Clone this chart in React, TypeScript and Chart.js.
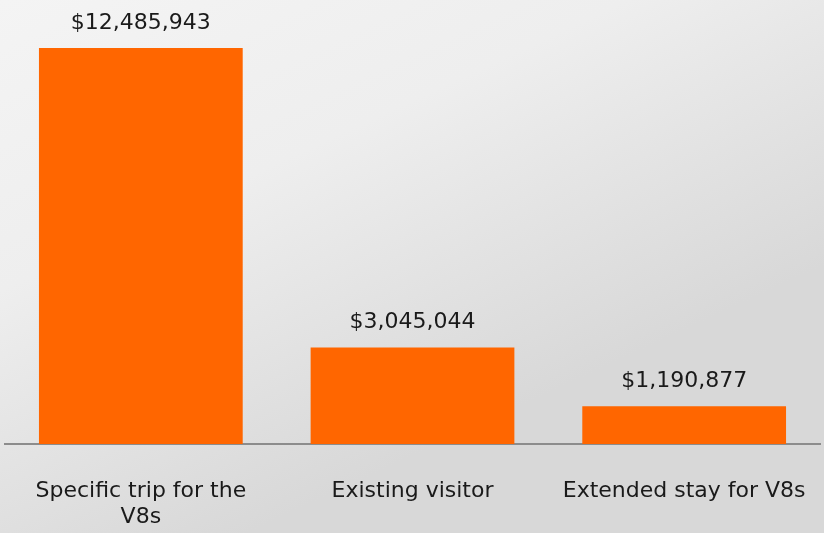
import React, { useEffect, useRef } from "react";
import { Chart, registerables } from "chart.js";

Chart.register(...registerables);

const categories: (string | string[])[] = [["Specific trip for the", "V8s"], "Existing visitor", "Extended stay for V8s"];
const values: number[] = [12485943, 3045044, 1190877];
const valueLabels: string[] = ["$12,485,943", "$3,045,044", "$1,190,877"];

const FONT = "'DejaVu Sans', sans-serif";

const bgPlugin = {
  id: "bgTexture",
  beforeDraw(chart: any) {
    const { ctx, width, height } = chart;
    ctx.save();
    const g = ctx.createLinearGradient(0, 0, width * 0.3, height);
    g.addColorStop(0, "#f4f4f4");
    g.addColorStop(0.45, "#eeeeee");
    g.addColorStop(1, "#d8d8d8");
    ctx.fillStyle = g;
    ctx.fillRect(0, 0, width, height);
    ctx.restore();
  },
};

const valueLabelPlugin = {
  id: "valueLabels",
  afterDatasetsDraw(chart: any) {
    const { ctx } = chart;
    const meta = chart.getDatasetMeta(0);
    ctx.save();
    ctx.font = `22px ${FONT}`;
    ctx.fillStyle = "#1a1a1a";
    ctx.textAlign = "center";
    ctx.textBaseline = "bottom";
    meta.data.forEach((bar: any, i: number) => {
      ctx.fillText(valueLabels[i], bar.x, bar.y - 14);
    });
    ctx.restore();
  },
};

export default function App() {
  const ref = useRef<HTMLCanvasElement | null>(null);
  useEffect(() => {
    if (!ref.current) return;
    const chart = new Chart(ref.current, {
      type: "bar",
      data: {
        labels: categories,
        datasets: [
          {
            data: values,
            backgroundColor: "#ff6600",
            borderWidth: 0,
            barPercentage: 0.75,
            categoryPercentage: 1,
          },
        ],
      },
      options: {
        animation: false,
        responsive: true,
        maintainAspectRatio: false,
        layout: { padding: { left: 5, right: 4, top: 0, bottom: 0 } },
        plugins: { legend: { display: false }, tooltip: { enabled: false } },
        scales: {
          x: {
            grid: { display: false, drawTicks: false },
            border: { display: true, color: "#8c8c8c", width: 2 },
            ticks: {
              color: "#1a1a1a",
              font: { family: FONT, size: 22 },
              padding: 34,
              maxRotation: 0,
              autoSkip: false,
            },
            afterFit(scale: any) {
              scale.height = 89;
              scale.paddingLeft = 0;
              scale.paddingRight = 0;
            },
          },
          y: {
            display: false,
            min: 0,
            max: 14000000,
          },
        },
      },
      plugins: [bgPlugin, valueLabelPlugin],
    });
    return () => chart.destroy();
  }, []);
  return (
    <div style={{ position: "fixed", left: 0, top: 0, width: 824, height: 533 }}>
      <canvas ref={ref} />
    </div>
  );
}
